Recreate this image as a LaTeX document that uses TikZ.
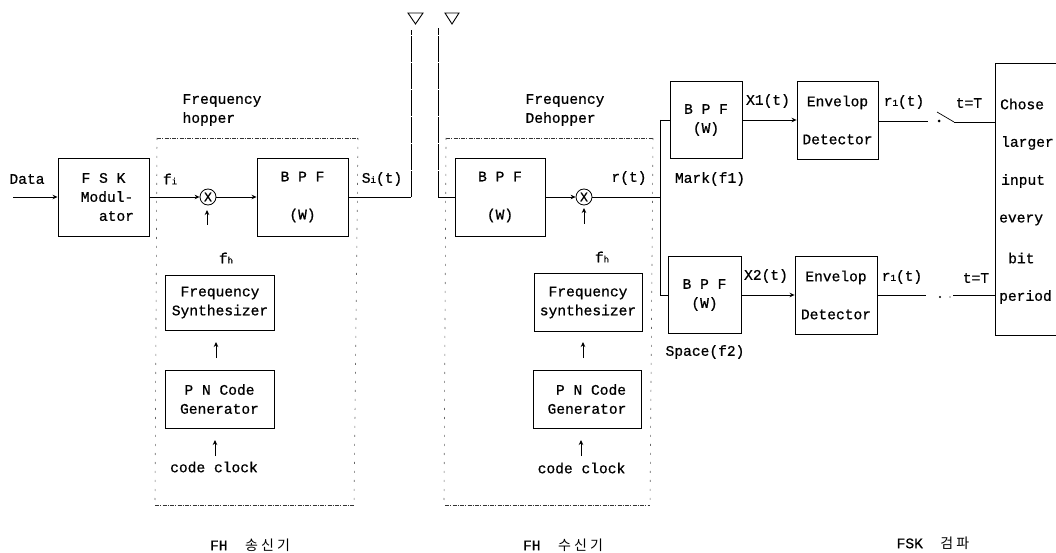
\documentclass[tikz,border=0pt]{standalone}
\usepackage{fontspec}
\setmainfont{Liberation Mono}[RawFeature={embolden=0.7}]
\newfontfamily\krfont{Noto Sans CJK KR}
\usetikzlibrary{arrows.meta}
\newcommand{\subs}[1]{{\fontsize{9}{9}\selectfont #1}}
\newcommand{\krtext}[1]{{\krfont\fontsize{14}{16}\selectfont #1}}
\tikzset{
  x=1pt,y=-1pt,
  every node/.style={font=\fontsize{14.6}{19}\selectfont,inner sep=0pt},
  blk/.style={draw,line width=0.9pt,align=center,anchor=center},
  lbl/.style={anchor=center,align=left},
  wire/.style={line width=0.9pt},
  arr/.style={line width=0.8pt,-{Stealth[length=5pt,width=4.5pt]}},
  mixer/.style={draw,circle,line width=0.8pt,minimum size=16pt,font=\fontsize{13}{13}\selectfont},
  antshape/.style={draw,line width=0.9pt},
  dashh/.style={line width=0.6pt,dash pattern=on 4pt off 1pt on 1pt off 1.5pt,black!80},
  dashv/.style={line width=0.6pt,dash pattern=on 2pt off 7pt,black!60},
  antline/.style={line width=0.9pt,dash pattern=on 26pt off 1pt},
  krlbl/.style={font=\fontsize{14.6}{19}\selectfont,anchor=center}
}
\begin{document}
\begin{tikzpicture}
\useasboundingbox (0,0) rectangle (1056,553);
% dotted enclosures
\draw[dashh] (157,138) -- (358,138);
\draw[dashh] (155,505) -- (354,505);
\draw[dashv] (157,138) -- (155,505);
\draw[dashv] (358,138) -- (354,505);
\draw[dashh] (446,138) -- (653,138);
\draw[dashh] (445,505) -- (650,505);
\draw[dashv] (446,138) -- (444,505);
\draw[dashv] (653,138) -- (650,505);
% transmitter
\node[lbl] (data) at (27,179) {Data};
\coordinate (datain) at (13,197);
\node[blk,minimum width=91pt,minimum height=78pt] (mod) at (103.5,197) {F S K\\\hspace{7pt}Modul-\\\hspace{26pt}ator};
\node[mixer] (mixa) at (208,197) {X};
\node[blk,minimum width=91pt,minimum height=78pt] (bpfa) at (302.5,197) {B P F\\[19pt](W)};
\node[lbl] (fi) at (170,179) {f\subs{i}};
\node[lbl] (hop) at (222,110) {Frequency\\hopper};
\node[lbl] (si) at (382,179) {S\subs{i}(t)};
\node[lbl] (fha) at (226,258) {f\subs{h}};
\coordinate (fhatip) at (207,210);
\coordinate (fhatail) at (207,225);
\node[blk,minimum width=109pt,minimum height=55pt] (syna) at (220,302.5) {Frequency\\Synthesizer};
\node[blk,minimum width=109pt,minimum height=58pt] (pna) at (219.5,399) {P N Code\\Generator};
\node[lbl] (clka) at (214,467) {code clock};
\coordinate (sa1) at (216,358);
\coordinate (sa2) at (216,342);
\coordinate (clkatip) at (215,440);
\coordinate (clkatail) at (215,456);
\draw[arr] (datain) -- (mod.west);
\draw[arr] (mod.east) -- (mixa.west);
\draw[arr] (mixa.east) -- (bpfa.west);
\draw[arr] (fhatail) -- (fhatip);
\draw[arr] (sa1) -- (sa2);
\draw[arr] (clkatail) -- (clkatip);
% antennas
\coordinate (anta) at (411,30);
\coordinate (antb) at (438,28);
\coordinate (cora) at (411,197);
\coordinate (corb) at (438,197);
\draw[wire] (bpfa.east) -- (cora);
\draw[antline] (cora) -- (anta);
\draw[antline] (corb) -- (antb);
\draw[antshape] (408,13) -- (423,13) -- (415.5,24) -- cycle;
\draw[antshape] (445,13) -- (459,13) -- (452,24) -- cycle;
% receiver
\node[blk,minimum width=90pt,minimum height=78pt] (bpfb) at (500,197) {B P F\\[19pt](W)};
\draw[wire] (corb) -- (bpfb.west);
\node[mixer] (mixb) at (584,197) {X};
\node[lbl] (dehop) at (565,110) {Frequency\\Dehopper};
\node[lbl] (rt) at (629,178) {r(t)};
\node[lbl] (fhb) at (602,257) {f\subs{h}};
\coordinate (fhbtip) at (584,208);
\coordinate (fhbtail) at (584,224);
\node[blk,minimum width=108pt,minimum height=58pt] (synb) at (588,302.5) {Frequency\\synthesizer};
\node[blk,minimum width=108pt,minimum height=58pt] (pnb) at (587,399) {\hspace{8pt}P N Code\\Generator};
\node[lbl] (clkb) at (581.5,468) {code clock};
\coordinate (sb1) at (583,358);
\coordinate (sb2) at (583,342);
\coordinate (clkbtip) at (581,440);
\coordinate (clkbtail) at (581,456);
\draw[arr] (bpfb.east) -- (mixb.west);
\draw[arr] (fhbtail) -- (fhbtip);
\draw[arr] (sb1) -- (sb2);
\draw[arr] (clkbtail) -- (clkbtip);
% FSK detection branches
\coordinate (split) at (660,197);
\node[blk,minimum width=72pt,minimum height=77pt] (bpfm) at (706,120) {B P F\\(W)};
\node[blk,minimum width=73pt,minimum height=77pt] (bpfs) at (704.5,295) {B P F\\(W)};
\node[lbl] (mark) at (710,179) {Mark(f1)};
\node[lbl] (space) at (705,352) {Space(f2)};
\node[lbl] (x1) at (768,101) {X1(t)};
\node[lbl] (x2) at (766,276) {X2(t)};
\node[blk,minimum width=81pt,minimum height=78pt] (envm) at (837.5,120) {Envelop\\[19pt]Detector};
\node[blk,minimum width=82pt,minimum height=78pt] (envs) at (836,295) {Envelop\\[19pt]Detector};
\node[lbl] (r1) at (904,102) {r\subs{1}(t)};
\node[lbl] (r2) at (902,277) {r\subs{1}(t)};
\node[lbl] (t1) at (969,103) {t=T};
\node[lbl] (t2) at (976,278) {t=T};
\draw[wire] (mixb.east) -- (split);
\draw[wire] (split |- bpfm.west) -- (bpfm.west);
\draw[wire] (split |- bpfm.west) -- (split |- bpfs.west);
\draw[wire] (split |- bpfs.west) -- (bpfs.west);
\draw[arr] (bpfm.east) -- (envm.west);
\draw[arr] (bpfs.east) -- (envs.west);
% decision box (runs off the right edge)
\node[draw,line width=0.9pt,minimum width=66pt,minimum height=272pt,anchor=north west] (dec) at (995,63) {};
\node[lbl,anchor=west] (d1) at (1000,104) {Chose};
\node[lbl,anchor=west] (d2) at (1001,143) {larger};
\node[lbl,anchor=west] (d3) at (1001,181) {input};
\node[lbl,anchor=west] (d4) at (999,220) {every};
\node[lbl,anchor=west] (d5) at (1008,258) {bit};
\node[lbl,anchor=west] (d6) at (999,297) {period};
% switches
\coordinate (sw1a) at (928,121);
\coordinate (sw1b) at (954,122);
\coordinate (sw1c) at (937,112);
\draw[wire] (envm.east |- sw1a) -- (sw1a);
\draw[line width=0.7pt] (sw1c) -- (sw1b);
\draw[wire] (sw1b) -- (dec.west |- sw1b);
\fill (939,121) circle (1.5pt);
\coordinate (sw2a) at (926,295);
\coordinate (sw2b) at (953,295);
\draw[wire] (envs.east) -- (sw2a);
\draw[wire] (sw2b) -- (dec.west |- sw2b);
\fill (940,297) circle (1.1pt);
\fill (950,297) circle (0.7pt);
% captions
\node[krlbl] (capa) at (250,545) {FH\ \ \krtext{송 신 기}};
\node[krlbl] (capb) at (563,545) {FH\ \ \krtext{수 신 기}};
\node[krlbl] (capc) at (933,543) {FSK\ \ \krtext{검 파}};
\end{tikzpicture}
\end{document}
